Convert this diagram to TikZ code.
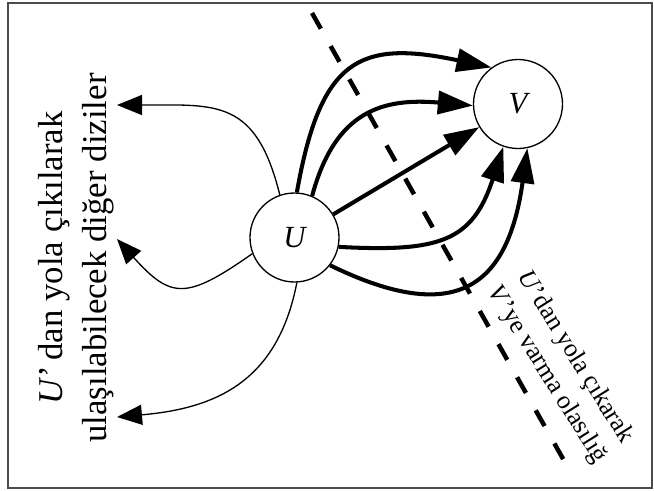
\documentclass[tikz,border=0pt]{standalone}
\usepackage{fontspec}
\setmainfont{Liberation Serif}
\usetikzlibrary{arrows.meta}

\begin{document}
\begin{tikzpicture}[
	thickarr/.style={-{Triangle[length=0.7cm,width=0.46cm]}, line width=2.3pt},
	thinarr/.style={-{Triangle[length=0.5cm,width=0.4cm]}, line width=0.75pt},
	cutline/.style={line width=2.55pt, dash pattern=on 0.36cm off 0.4cm},
	dot/.style={shape=circle, draw=black, line width=0.75pt, minimum size=1.78cm, inner sep=0pt, font=\fontsize{17.5}{20}\selectfont\itshape}
	]
		\useasboundingbox (0,0) rectangle (13.08,9.8);
		\draw[black!70, line width=1.1pt] (0.16,0.04) rectangle (13.04,9.74);
		
		\node[dot] (U) at (5.89,5.05) {U};
		\node[dot] (V) at (10.36,7.72) {V};
		
		\coordinate (A) at (2.34,7.70);
		\coordinate (B) at (2.34,5.02);
		\coordinate (C) at (2.34,1.46);
		
		\coordinate (S) at (6.24,9.54);
		\coordinate (T) at (11.42,0.34);
		
		\node[rotate=90, align=center, font=\fontsize{19.8}{25}\selectfont] (L) at (1.52,4.64) {\textit{U}’\,dan yola çıkılarak\\ulaşılabilecek diğer diziler};
		\node[rotate=-58, align=center, font=\fontsize{14.6}{18.7}\selectfont] (R) at (11.22,2.48) {\textit{U}’dan yola çıkarak\\\textit{V}’ye varma olasılığ};
		
		\path [thinarr] (U.109) edge[out=104, in=0, looseness=1.37] (A);
		\path [thinarr] (U.201) edge[out=215, in=312, looseness=1.52] (B);
		\path [thinarr] (U.273) edge[out=259, in=5, looseness=1.14] (C);
		
		\path [thickarr] (U.87) edge[out=80, in=168, looseness=1.5] (V.126);
		\path [thickarr] (U.67) edge[out=75, in=175, looseness=1.24] (V.182);
		\path [thickarr] (U) edge (V);
		\path [thickarr] (U.348) edge[out=-3, in=252, looseness=1.33] (V.251);
		\path [thickarr] (U.322) edge[out=-26, in=262, looseness=1.56] (V.282);
		
		\path [cutline] (S) edge (T);
		
\end{tikzpicture}
\end{document}
